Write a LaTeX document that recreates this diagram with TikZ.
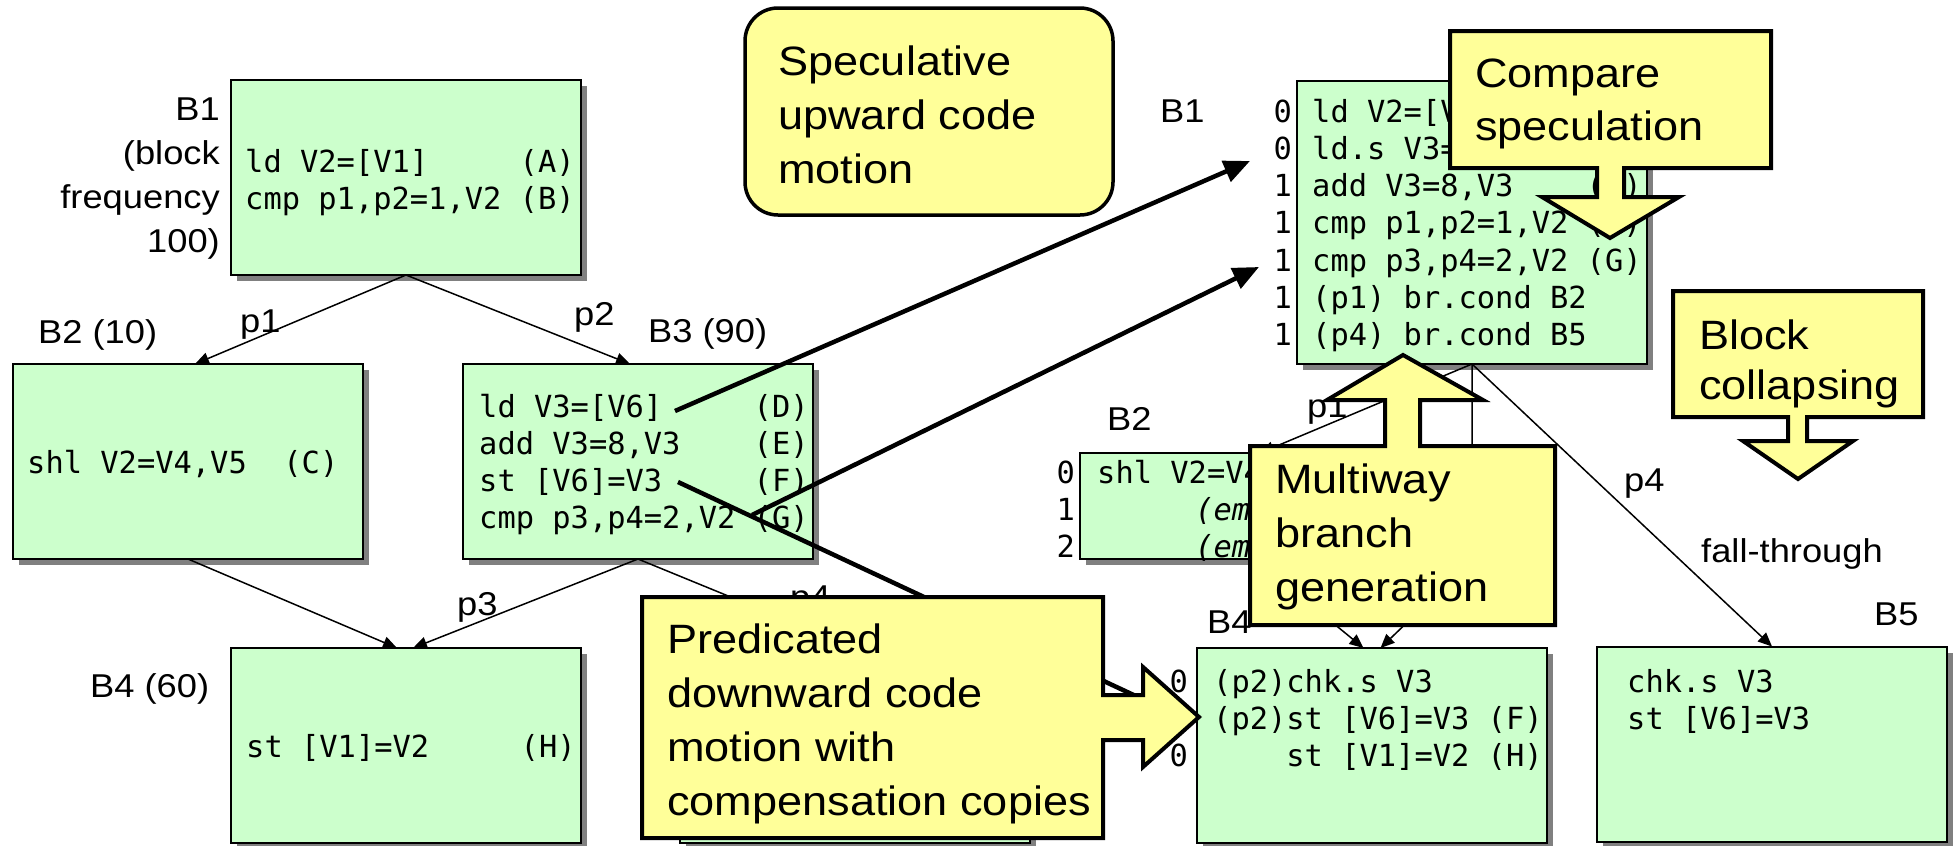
\documentclass[tikz,border=0pt]{standalone}
\usepackage{fontspec}
\setmainfont[FakeStretch=1.1]{Liberation Sans}
\newfontfamily\codefont[ItalicFont={DejaVu Sans Mono Oblique}]{DejaVu Sans Mono}
\usetikzlibrary{arrows.meta,shadows}
\definecolor{gfill}{RGB}{204,255,204}
\definecolor{yfill}{RGB}{255,255,153}
\definecolor{shgray}{RGB}{128,128,128}
\newcommand\llines[1]{\begin{tabular}[t]{@{}l@{}}#1\end{tabular}}
\newcommand\rlines[1]{\begin{tabular}[t]{@{}r@{}}#1\end{tabular}}
\begin{document}
\begin{tikzpicture}[x=1pt,y=-1pt,
  gbox/.style={draw=black, line width=2pt, fill=gfill, minimum width=350pt, minimum height=195pt,
    inner sep=0pt, outer sep=0pt,
    drop shadow={shadow xshift=6pt, shadow yshift=-6pt, fill=shgray, opacity=1}},
  code/.style={font=\codefont\fontsize{30.4}{37.3}\selectfont, inner sep=0pt, anchor=base west},
  lbl/.style={font=\fontsize{33}{44}\selectfont, inner sep=0pt, anchor=base west},
  big/.style={font=\fontsize{41}{54}\selectfont, inner sep=0pt, anchor=base west},
  edge/.style={draw=black, line width=1.5pt, -{Triangle[length=14pt,width=12pt]}},
  thickarrow/.style={draw=black, line width=4.5pt, -{Triangle[length=26pt,width=22pt]}},
  callout/.style={draw=black, line width=4pt, fill=yfill, line join=miter}]
\useasboundingbox (0,0) rectangle (1955,846);

% ---------- original CFG ----------
\node[gbox] (ob1) at (406,177.5) {};
\node[gbox] (ob2) at (188,461.5) {};
\node[gbox] (ob3) at (638,461.5) {};
\node[gbox] (ob4) at (406,745.5) {};
\node[gbox] (ob5) at (855,745.5) {};

\draw[edge] (ob1.south) -- ([xshift=7pt]ob2.north);
\draw[edge] (ob1.south) -- ([xshift=-8pt]ob3.north);
\draw[edge] (ob2.south) -- ([xshift=-9pt]ob4.north);
\draw[edge] (ob3.south) -- ([xshift=7pt]ob4.north);
\draw[edge] (ob3.south) -- (ob5.north);

\node[code] (c1) at (245,172) {\llines{ld V2=[V1]~~~~~(A)\\cmp p1,p2=1,V2 (B)}};
\node[code] (c2) at (27,473) {shl V2=V4,V5~~(C)};
\node[code] (c3) at (479,417) {\llines{ld V3=[V6]~~~~~(D)\\add V3=8,V3~~~~(E)\\st [V6]=V3~~~~~(F)\\cmp p3,p4=2,V2 (G)}};
\node[code] (c4) at (246,757) {st [V1]=V2~~~~~(H)};

\node[lbl, anchor=base east] (lb1) at (220,120) {\rlines{B1\\(block\\frequency\\100)}};
\node[lbl] (lb2) at (38,343) {B2 (10)};
\node[lbl] (lb3) at (648,342) {B3 (90)};
\node[lbl] (lb4) at (90,697) {B4 (60)};
\node[lbl] (lp1) at (240,332) {p1};
\node[lbl] (lp2) at (574,325) {p2};
\node[lbl] (lp3) at (457,615) {p3};
\node[lbl] (lp4) at (790,608) {p4};

% ---------- transformed CFG ----------
\node[gbox, minimum height=283pt] (nb1) at (1472,222.5) {};
\node[gbox, minimum height=106pt] (nb2) at (1255,506) {};
\node[gbox] (nb4) at (1371.5,745.5) {};
\node[gbox] (nb5) at (1772,744) {};

\coordinate (nbend) at (1472,560);
\draw[edge] (nb1.south) -- ([xshift=5pt]nb2.north);
\draw[edge] (nb1.south) -- (nbend) -- ([xshift=9pt]nb4.north);
\draw[edge] (nb2.south) -- ([xshift=-8pt]nb4.north);
\draw[edge] (nb1.south) -- (nb5.north);

\node[code] (c5) at (1312,122) {\llines{ld V2=[V1]~~~~~(A)\\ld.s V3=[V6]~~~(D)\\add V3=8,V3~~~~(E)\\cmp p1,p2=1,V2 (B)\\cmp p3,p4=2,V2 (G)\\(p1) br.cond B2\\(p4) br.cond B5}};
\node[code, anchor=base east] (n5) at (1292,122) {\rlines{0\\0\\1\\1\\1\\1\\1}};
\node[code] (c6) at (1097,483) {shl V2=V4,V5~~(C)};
\node[code] (c6e) at (1195,520.3) {\llines{\itshape (empty)\\\itshape (empty)}};
\node[code, anchor=base east] (n6) at (1075,483) {\rlines{0\\1\\2}};
\node[code] (c7) at (1213,692) {\llines{(p2)chk.s V3\\(p2)st [V6]=V3 (F)\\~~~~st [V1]=V2 (H)}};
\node[code, anchor=base east] (n7a) at (1188,692) {0};
\node[code, anchor=base east] (n7b) at (1188,766.6) {0};
\node[code] (c8) at (1627,692) {\llines{chk.s V3\\st [V6]=V3}};

\node[lbl] (nlb1) at (1160,122) {B1};
\node[lbl] (nlb2) at (1107,430) {B2};
\node[lbl] (nlp1) at (1307,417) {p1};
\node[lbl] (nlb4) at (1207,633) {B4};
\node[lbl] (nlp4) at (1624,491) {p4};
\node[lbl] (nft) at (1701,562) {fall-through};
\node[lbl] (nlb5) at (1874,625) {B5};

% ---------- code motion arrows ----------
\coordinate (dS) at (675,411); \coordinate (dT) at (1250,161);
\coordinate (gS) at (752,515); \coordinate (gT) at (1259,267);
\coordinate (fS) at (678,482); \coordinate (fE) at (1170,712);
\draw[thickarrow] (dS) -- (dT);
\draw[thickarrow] (gS) -- (gT);
\draw[draw=black, line width=4.5pt] (fS) -- (fE);

% ---------- callouts ----------
\draw[callout, line width=3.5pt, rounded corners=33pt] (745,8) rectangle (1113,215);
\node[big] (tspec) at (778,75) {\llines{Speculative\\upward code\\motion}};

\draw[callout] (1450,31) -- (1771,31) -- (1771,168) -- (1624,168) -- (1624,197) -- (1679,197)
  -- (1610,238) -- (1542,197) -- (1597,197) -- (1597,168) -- (1450,168) -- cycle;
\node[big, font=\fontsize{41}{53}\selectfont] (tcomp) at (1475,87) {\llines{Compare\\speculation}};

\draw[callout] (1673,291) -- (1923,291) -- (1923,417) -- (1807,417) -- (1807,441) -- (1853,441)
  -- (1798,479) -- (1743,441) -- (1788,441) -- (1788,417) -- (1673,417) -- cycle;
\node[big, font=\fontsize{41}{50}\selectfont] (tblock) at (1699,349) {\llines{Block\\collapsing}};

\draw[callout] (1250,446) -- (1385,446) -- (1385,400) -- (1327,400) -- (1403,355) -- (1483,400)
  -- (1420,400) -- (1420,446) -- (1555,446) -- (1555,625) -- (1250,625) -- cycle;
\node[big] (tmulti) at (1275,493) {\llines{Multiway\\branch\\generation}};

\draw[callout] (642,597) -- (1103,597) -- (1103,695) -- (1143,695) -- (1143,667) -- (1199,717)
  -- (1143,767) -- (1143,740) -- (1103,740) -- (1103,838) -- (642,838) -- cycle;
\node[big] (tpred) at (667,653) {\llines{Predicated\\downward code\\motion with\\compensation copies}};
\end{tikzpicture}
\end{document}
